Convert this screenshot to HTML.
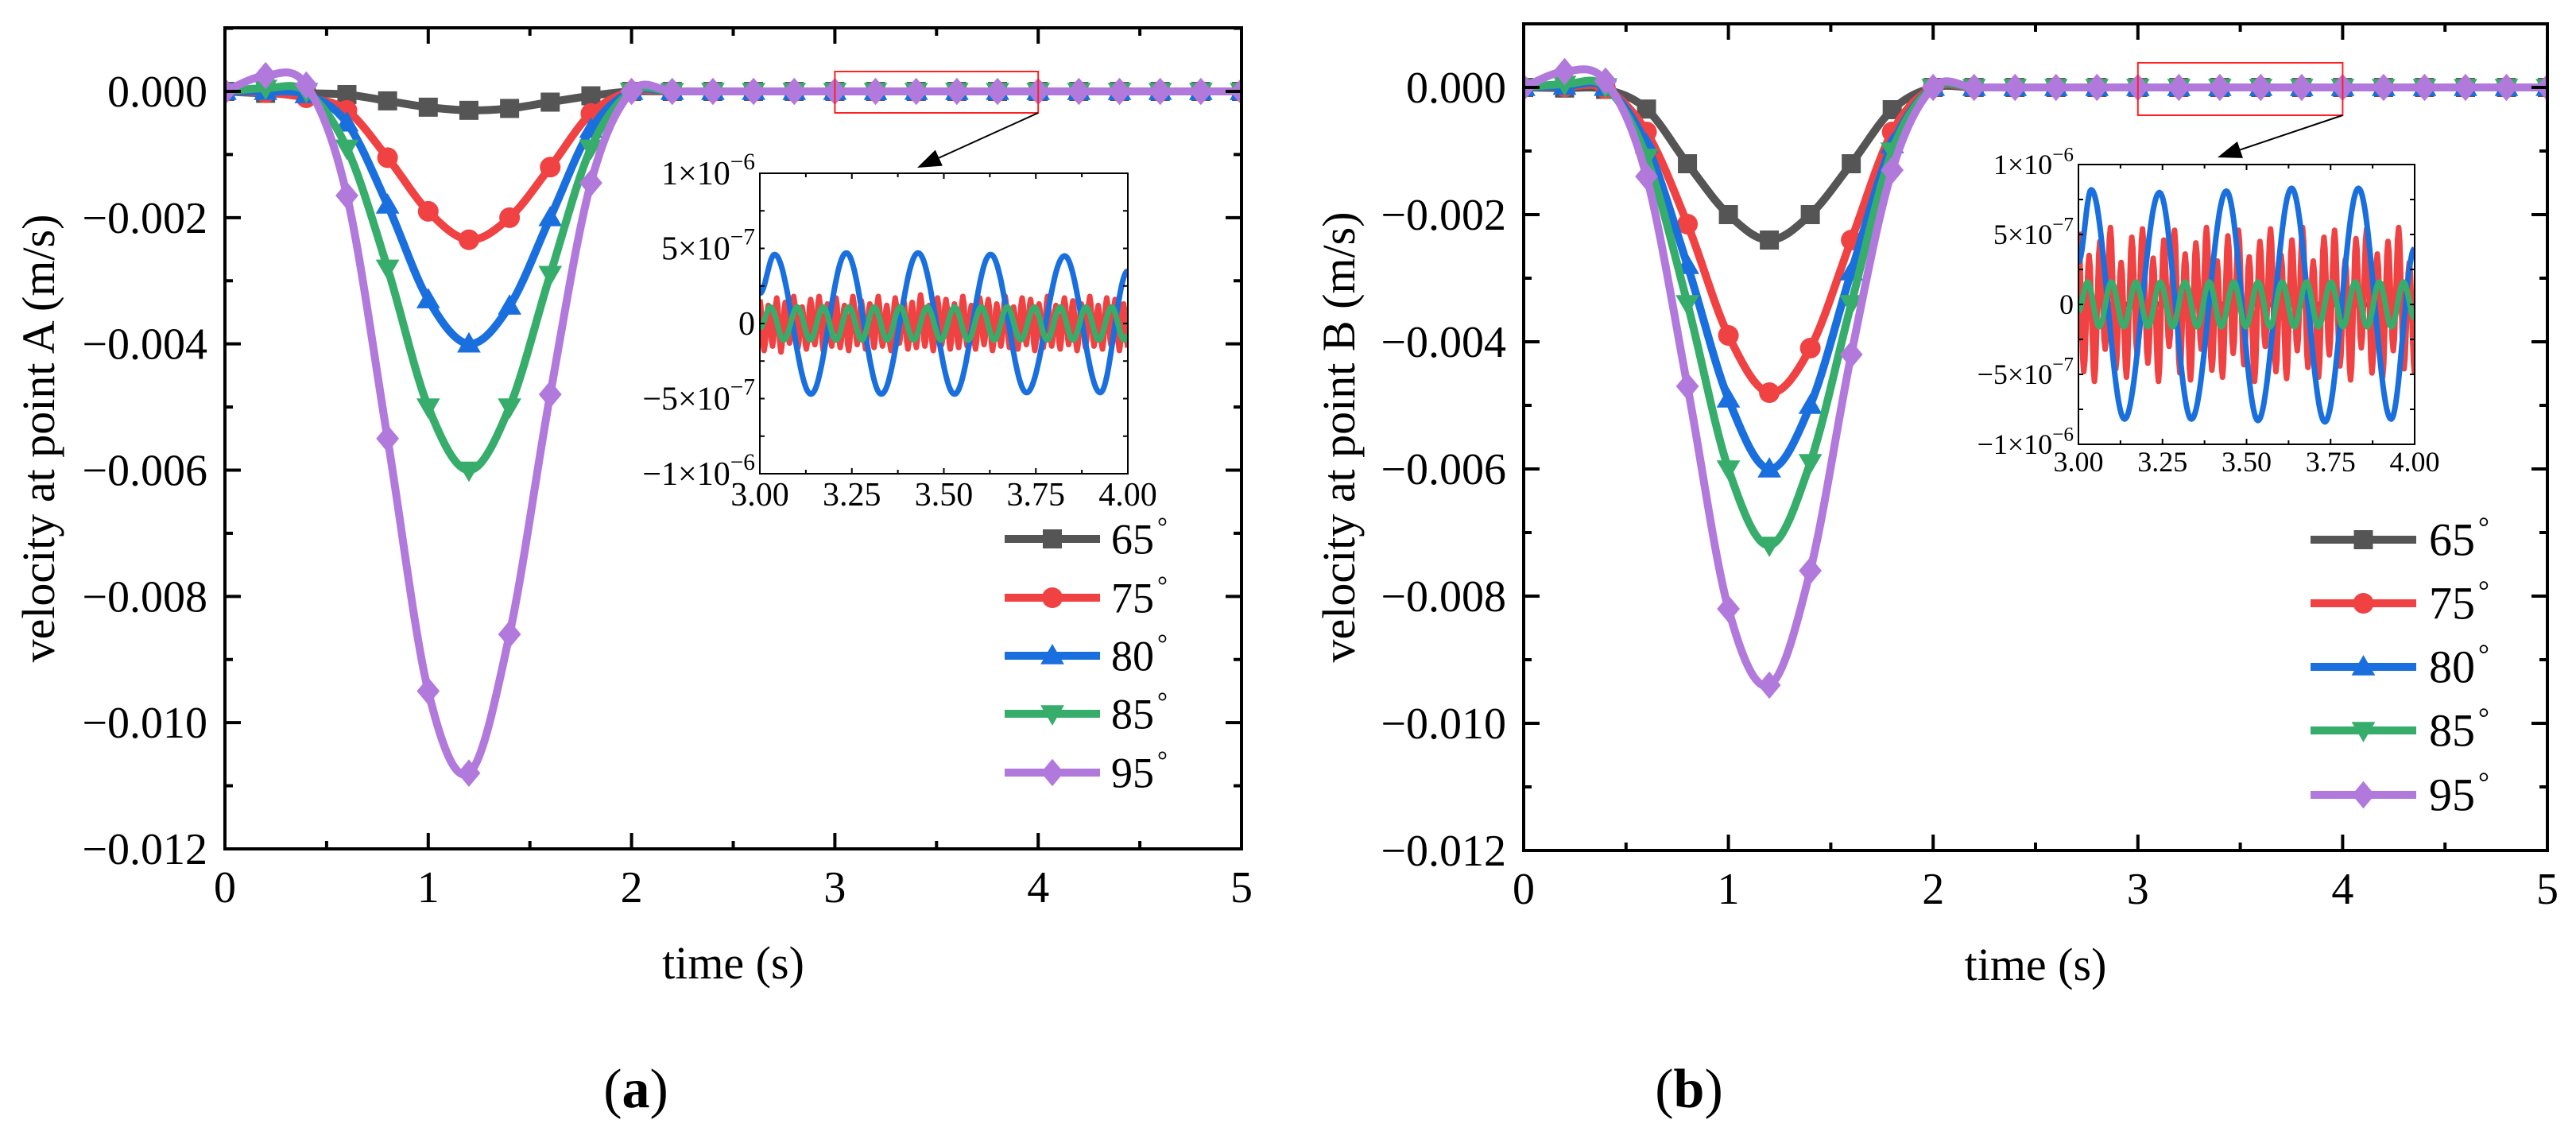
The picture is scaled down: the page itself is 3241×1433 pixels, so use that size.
<!DOCTYPE html>
<html><head><meta charset="utf-8"><style>
html,body{margin:0;padding:0;background:#fff}
svg{display:block;font-family:"Liberation Serif","DejaVu Serif",serif}
</style></head><body>
<svg id="fig" width="3241" height="1433" viewBox="0 0 3241 1433" xmlns="http://www.w3.org/2000/svg"></svg>
<script>
// ---------- data ----------
const seriesNames = ["65°","75°","80°","85°","95°"];
const seriesColors = ["#555555","#f04242","#1a6fdf","#37ad6b","#b279dd"];
const markerTimes = [0,0.2,0.4,0.6,0.8,1.0,1.2,1.4,1.6,1.8,2.0,2.2,2.4,2.6,2.8,3.0,3.2,3.4,3.6,3.8,4.0,4.2,4.4,4.6,4.8,5.0];
// panel A (values in m/s at markerTimes up to 2.0, then zero)
const a65 = [0,-0.00003,-0.00003,-0.00005,-0.00015,-0.00025,-0.0003,-0.00027,-0.00017,-0.00007,0];
const a75 = [0,-0.00002,-0.0001,-0.0003,-0.00105,-0.0019,-0.00235,-0.002,-0.0012,-0.00035,0];
const a80 = [0,0,-0.00005,-0.0005,-0.0018,-0.0033,-0.004,-0.0034,-0.002,-0.0006,0];
const a85 = [0,0.00005,0,-0.0009,-0.0028,-0.005,-0.006,-0.005,-0.0029,-0.0009,0];
const a95 = [0,0.00025,0.0001,-0.00165,-0.0055,-0.0095,-0.0108,-0.0086,-0.0048,-0.00145,0];
// panel B
const b65 = [0,-0.00001,-0.00003,-0.00034,-0.0012,-0.002,-0.0024,-0.002,-0.0012,-0.00035,0];
const b75 = [0,0.00001,-0.00002,-0.0007,-0.00215,-0.0039,-0.0048,-0.0041,-0.0024,-0.0007,0];
const b80 = [0,0.00002,0,-0.0009,-0.0028,-0.0049,-0.006,-0.005,-0.0029,-0.0009,0];
const b85 = [0,0.00005,0.00001,-0.0011,-0.0034,-0.006,-0.0072,-0.0059,-0.0034,-0.001,0];
const b95 = [0,0.00025,0.0001,-0.0014,-0.0047,-0.0082,-0.0094,-0.0076,-0.0042,-0.0013,0];
const mainYTicks = [0,-0.002,-0.004,-0.006,-0.008,-0.010,-0.012];
const mainYTickLabels = ["0.000","\u22120.002","\u22120.004","\u22120.006","\u22120.008","\u22120.010","\u22120.012"];
const mainXTicks = [0,1,2,3,4,5];
const insetXTicks = [3.00,3.25,3.50,3.75,4.00];
const insetXTickLabels = ["3.00","3.25","3.50","3.75","4.00"];
const insetYTicks = [1e-6,5e-7,0,-5e-7,-1e-6];
const insetYTickBase = ["1\u00d710","5\u00d710","0","\u22125\u00d710","\u22121\u00d710"];
const insetYTickExp = ["\u22126","\u22127","","\u22127","\u22126"];
// inset series (extremes, units 1e-7)
const insA_blueT = [3.0,3.04,3.139,3.235,3.33,3.43,3.529,3.627,3.725,3.828,3.925,4.0];
const insA_blueV = [2.0,4.6,-4.7,4.7,-4.7,4.7,-4.7,4.6,-4.6,4.5,-4.6,3.5];
const insA_greenT = [3.0,3.029,3.065,3.102,3.137,3.172,3.207,3.242,3.277,3.311,3.346,3.381,3.418,3.455,3.492,3.529,3.566,3.602,3.637,3.672,3.709,3.746,3.781,3.816,3.851,3.886,3.921,3.956,3.99,4.0];
const insA_greenV = [-0.3,1.1,-1.1,1.1,-1.1,1.1,-1.1,1.1,-1.1,1.1,-1.1,1.1,-1.1,1.1,-1.1,1.1,-1.1,1.1,-1.1,1.1,-1.1,1.1,-1.1,1.1,-1.1,1.1,-1.1,1.1,-1.1,-0.8];
const insA_redV = [1.6,-1.8,1.2,-1.5,1.7,-1.9,1.4,-1.3,1.8,-1.6,1.1,-1.7,1.6,-1.4,1.8,-1.8,1.3,-1.5,1.7,-1.6,1.2,-1.8,1.8,-1.4,1.5,-1.7,1.3,-1.6,1.8,-1.5,1.2,-1.8,1.7,-1.3,1.6,-1.7,1.4,-1.6,1.9,-1.5,1.2,-1.8,1.7,-1.4,1.6,-1.7,1.3,-1.6,1.8,-1.5,1.2,-1.7,1.7,-1.4,1.6,-1.8,1.3,-1.5,1.8,-1.6,1.1,-1.7,1.7,-1.4,1.6,-1.8,1.3,-1.6,1.8,-1.5,1.2,-1.7,1.7,-1.4,1.5,-1.8,1.3,-1.6,1.8,-1.5,1.2,-1.7,1.7,-1.4,1.6,-1.8,1.3,-1.6];
const insB_blueT = [3.0,3.038,3.137,3.241,3.336,3.44,3.534,3.634,3.733,3.833,3.93,4.0];
const insB_blueV = [3.0,8.2,-8.2,8.0,-8.2,8.1,-8.3,8.3,-8.4,8.3,-8.2,4.0];
const insB_greenT = [3.0,3.027,3.062,3.098,3.135,3.171,3.207,3.243,3.28,3.317,3.353,3.389,3.425,3.462,3.498,3.534,3.57,3.606,3.642,3.678,3.714,3.751,3.787,3.823,3.859,3.895,3.931,3.967,4.0];
const insB_greenV = [-0.5,1.6,-1.6,1.6,-1.6,1.6,-1.6,1.6,-1.6,1.6,-1.6,1.6,-1.6,1.6,-1.6,1.6,-1.6,1.6,-1.6,1.6,-1.6,1.6,-1.6,1.6,-1.6,1.6,-1.6,1.6,-1.0];
const insB_redV = [5.2,-4.8,3.5,-5.5,4.5,-3.2,5.5,-4.6,3.0,-5.2,4.8,-3.6,5.4,-4.2,3.3,-5.5,4.6,-3.0,5.3,-4.9,3.6,-5.4,4.4,-3.2,5.5,-4.7,3.1,-5.2,4.9,-3.5,5.3,-4.3,3.4,-5.5,4.5,-3.0,5.4,-4.8,3.5,-5.3,4.6,-3.3,5.5,-4.5,3.1,-5.2,4.8,-3.6,5.3,-4.4,3.2,-5.4,4.7,-3.1,5.4,-4.9,3.6,-5.2,4.5,-3.3,5.5,-4.6,3.0,-5.0];
const insGrayT = [3.0,4.0];
const insGrayV = [0,0];

// ---------- drawing ----------
const NS="http://www.w3.org/2000/svg";
const svg=document.getElementById('fig');
function mk(tag,attrs,parent){const e=document.createElementNS(NS,tag);for(const k in attrs)e.setAttribute(k,attrs[k]);(parent||svg).appendChild(e);return e;}

function catmull(pts){
  let d="M"+pts[0][0].toFixed(1)+","+pts[0][1].toFixed(1);
  for(let i=0;i<pts.length-1;i++){
    const p0=pts[i-1]||pts[i],p1=pts[i],p2=pts[i+1],p3=pts[i+2]||p2;
    const c1=[p1[0]+(p2[0]-p0[0])/6,p1[1]+(p2[1]-p0[1])/6];
    const c2=[p2[0]-(p3[0]-p1[0])/6,p2[1]-(p3[1]-p1[1])/6];
    d+="C"+c1[0].toFixed(1)+","+c1[1].toFixed(1)+" "+c2[0].toFixed(1)+","+c2[1].toFixed(1)+" "+p2[0].toFixed(1)+","+p2[1].toFixed(1);
  }
  return d;
}
function markerShape(g,type,x,y,s,color){
  let e;
  if(type===0) e=mk('rect',{x:x-s/2,y:y-s/2,width:s,height:s,fill:color},g);
  else if(type===1) e=mk('circle',{cx:x,cy:y,r:s/2+1,fill:color},g);
  else if(type===2) e=mk('polygon',{points:`${x},${y-s*0.62} ${x-s*0.62},${y+s*0.45} ${x+s*0.62},${y+s*0.45}`,fill:color},g);
  else if(type===3) e=mk('polygon',{points:`${x},${y+s*0.62} ${x-s*0.62},${y-s*0.45} ${x+s*0.62},${y-s*0.45}`,fill:color},g);
  else e=mk('polygon',{points:`${x},${y-s*0.72} ${x+s*0.6},${y} ${x},${y+s*0.72} ${x-s*0.6},${y}`,fill:color},g);
  
  
  return e;
}
function cosCurve(T,V,sx,sy){
  let d="";
  for(let i=0;i<T.length-1;i++){
    const n=Math.max(4,Math.ceil((sx(T[i+1])-sx(T[i]))/1.5));
    for(let k=(i===0?0:1);k<=n;k++){
      const u=k/n,t=T[i]+(T[i+1]-T[i])*u,v=V[i]+(V[i+1]-V[i])*(1-Math.cos(Math.PI*u))/2;
      d+=(d?"L":"M")+sx(t).toFixed(1)+","+sy(v*1e-7).toFixed(1);
    }
  }
  return d;
}

function panel(cfg){
  const P=cfg;
  const g=mk('g',{});  
  const sx=t=>P.L+(t-0)/(5-0)*(P.R-P.L);
  const sy=v=>P.Y0+(-v)/0.012*(P.B-P.Y0);
  const clipId=P.id+'-clip';
  const cp=mk('clipPath',{id:clipId},g); mk('rect',{x:P.L,y:P.T,width:P.R-P.L,height:P.B-P.T},cp);
  const sg=mk('g',{'clip-path':`url(#${clipId})`},g);
   
  P.data.forEach((vals,si)=>{
    const full=markerTimes.map((t,i)=>i<vals.length?vals[i]:0);
    const pts=markerTimes.map((t,i)=>[sx(t),sy(full[i])]);
    const p=mk('path',{d:catmull(pts),fill:'none',stroke:seriesColors[si],'stroke-width':10,'stroke-linejoin':'round'},sg);
    
    
    pts.forEach(q=>markerShape(sg,si,q[0],q[1],24,seriesColors[si]));
  });
  const fr=mk('rect',{x:P.L,y:P.T,width:P.R-P.L,height:P.B-P.T,fill:'none',stroke:'#000','stroke-width':4},g);
   
  for(let t=0;t<=5.001;t+=0.5){
    const major=Math.abs(t-Math.round(t))<1e-6, len=major?20:10, x=sx(t);
    mk('line',{x1:x,y1:P.B,x2:x,y2:P.B-len,stroke:'#000','stroke-width':4},g);
    mk('line',{x1:x,y1:P.T,x2:x,y2:P.T+len,stroke:'#000','stroke-width':4},g);
  }
  mainXTicks.forEach(t=>{
    const e=mk('text',{x:sx(t),y:P.B+67,'text-anchor':'middle','font-size':56},g); e.textContent=String(t);
     
  });
  for(let v=0.001;v>=-0.0120001;v-=0.001){
    const major=Math.abs(Math.round(v*1000))%2===0, len=major?20:10, y=sy(v);
    mk('line',{x1:P.L,y1:y,x2:P.L+len,y2:y,stroke:'#000','stroke-width':4},g);
    mk('line',{x1:P.R,y1:y,x2:P.R-len,y2:y,stroke:'#000','stroke-width':4},g);
  }
  mainYTicks.forEach((v,i)=>{
    const e=mk('text',{x:P.L-22,y:sy(v)+19,'text-anchor':'end','font-size':56},g); e.textContent=mainYTickLabels[i];
     
  });
  const xt=mk('text',{x:(P.L+P.R)/2,y:P.B+163,'text-anchor':'middle','font-size':58},g); xt.textContent='time (s)';
   
  const yt=mk('text',{x:0,y:0,'text-anchor':'middle','font-size':58,transform:`translate(${P.ytX},${(P.T+P.B)/2}) rotate(-90)`},g); yt.textContent=P.ytitle;
   
  const lb=mk('text',{x:P.labX,y:1393,'text-anchor':'middle','font-size':70},g);
  const t1=mk('tspan',{},lb); t1.textContent='(';
  const t2=mk('tspan',{'font-weight':'bold'},lb); t2.textContent=P.label;
  const t3=mk('tspan',{},lb); t3.textContent=')';
   
  const zr=mk('rect',{x:sx(3),y:P.zT,width:sx(4)-sx(3),height:P.zB-P.zT,fill:'none',stroke:'#ff2020','stroke-width':2},g);
   
  const ax1=sx(4),ay1=P.zB,ax2=P.arX,ay2=P.arY;
  const ang=Math.atan2(ay2-ay1,ax2-ax1),hl=30,hw=11;
  const bx=ax2-hl*Math.cos(ang),by=ay2-hl*Math.sin(ang);
  const al=mk('line',{x1:ax1,y1:ay1,x2:bx,y2:by,stroke:'#000','stroke-width':2},g);
   
  mk('polygon',{points:`${ax2},${ay2} ${bx-hw*Math.sin(ang)},${by+hw*Math.cos(ang)} ${bx+hw*Math.sin(ang)},${by-hw*Math.cos(ang)}`,fill:'#000'},g);
  const lg=mk('g',{},g);  
  seriesNames.forEach((n,i)=>{
    const y=P.legY[i];
    const ln=mk('line',{x1:P.legX1,y1:y,x2:P.legX2,y2:y,stroke:seriesColors[i],'stroke-width':10},lg);
     
    markerShape(lg,i,(P.legX1+P.legX2)/2,y,24,seriesColors[i]);
    const tx=mk('text',{x:P.legTX,y:y+P.legFS*0.34,'font-size':P.legFS},lg);
    const a=mk('tspan',{},tx); a.textContent=n.replace('°','');
    const b=mk('tspan',{'font-size':P.legFS*0.6,dy:-P.legFS*0.42,dx:4},tx); b.textContent='°';
     
  });
  const I=P.inset;
  const ig=mk('g',{},g);  
  const ix=t=>I.L+(t-3)/(4-3)*(I.R-I.L);
  const iy=v=>I.T+(1e-6-v)/(2e-6)*(I.B-I.T);
  mk('rect',{x:I.L,y:I.T,width:I.R-I.L,height:I.B-I.T,fill:'#fff'},ig);
  const icp=mk('clipPath',{id:P.id+'-iclip'},ig); mk('rect',{x:I.L,y:I.T,width:I.R-I.L,height:I.B-I.T},icp);
  const isg=mk('g',{'clip-path':`url(#${P.id}-iclip)`},ig);
  const redT=I.redV.map((v,i)=>3+i/(I.redV.length-1));
  const curves=[[insGrayT,insGrayV,seriesColors[0],'inset-line-65deg'],[redT,I.redV,seriesColors[1],'inset-line-75deg'],[I.blueT,I.blueV,seriesColors[2],'inset-line-80deg'],[I.greenT,I.greenV,seriesColors[3],'inset-line-85deg']];
  curves.forEach(c=>{
    const p=mk('path',{d:cosCurve(c[0],c[1],ix,iy),fill:'none',stroke:c[2],'stroke-width':7,'stroke-linejoin':'round'},isg);
     
  });
  mk('rect',{x:I.L,y:I.T,width:I.R-I.L,height:I.B-I.T,fill:'none',stroke:'#000','stroke-width':2},ig);
  for(let t=3;t<=4.0001;t+=0.125){
    const major=Math.abs(t*4-Math.round(t*4))<1e-6,len=major?7:5,x=ix(t);
    mk('line',{x1:x,y1:I.B,x2:x,y2:I.B-len,stroke:'#000','stroke-width':2},ig);
    mk('line',{x1:x,y1:I.T,x2:x,y2:I.T+len,stroke:'#000','stroke-width':2},ig);
  }
  for(let v=-1e-6;v<=1.0001e-6;v+=2.5e-7){
    const y=iy(v);
    mk('line',{x1:I.L,y1:y,x2:I.L+6,y2:y,stroke:'#000','stroke-width':2},ig);
    mk('line',{x1:I.R,y1:y,x2:I.R-6,y2:y,stroke:'#000','stroke-width':2},ig);
  }
  insetXTicks.forEach((t,i)=>{
    const e=mk('text',{x:ix(t),y:I.B+I.fs*0.95,'text-anchor':'middle','font-size':I.fs},ig); e.textContent=insetXTickLabels[i];
     
  });
  insetYTicks.forEach((v,i)=>{
    const e=mk('text',{x:I.L-6,y:iy(v)+I.fs*0.33,'text-anchor':'end','font-size':I.fs},ig);
    const a=mk('tspan',{},e); a.textContent=insetYTickBase[i];
    if(insetYTickExp[i]){const b=mk('tspan',{'font-size':I.fs*0.7,dy:-I.fs*0.45},e); b.textContent=insetYTickExp[i];}
     
  });
}

panel({id:'panel-a',L:283,R:1562,T:35,B:1068,Y0:115,data:[a65,a75,a80,a85,a95],
  ytitle:'velocity at point A (m/s)',ytX:68,label:'a',labX:800,zT:90,zB:142,arX:1154,arY:211,
  legX1:1264,legX2:1384,legTX:1398,legFS:54,legY:[678,752,825,898,972],
  inset:{L:956,R:1419,T:218,B:596,fs:42,blueT:insA_blueT,blueV:insA_blueV,greenT:insA_greenT,greenV:insA_greenV,redV:insA_redV}});
panel({id:'panel-b',L:1917,R:3205,T:30,B:1070,Y0:110,data:[b65,b75,b80,b85,b95],
  ytitle:'velocity at point B (m/s)',ytX:1704,label:'b',labX:2125,zT:79,zB:145,arX:2790,arY:198,
  legX1:2907,legX2:3040,legTX:3056,legFS:58,legY:[679,759,839,919,1000],
  inset:{L:2615,R:3038,T:207,B:559,fs:36,blueT:insB_blueT,blueV:insB_blueV,greenT:insB_greenT,greenV:insB_greenV,redV:insB_redV}});
</script>
</body></html>
